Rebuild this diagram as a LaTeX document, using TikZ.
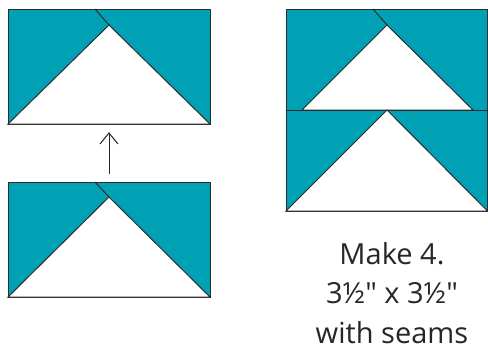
\documentclass[tikz,border=0pt]{standalone}
\usepackage{fontspec}
\setmainfont{Open Sans}[Ligatures=TeXOff]
\definecolor{quiltteal}{HTML}{00A0B5}
\definecolor{seamgray}{HTML}{2B2B2B}
\begin{document}
\begin{tikzpicture}[x=1pt,y=-1pt,
  patch/.style={fill=quiltteal, draw=seamgray, line width=1pt},
  goose/.style={fill=white, draw=seamgray, line width=1pt, line join=miter},
  seam/.style={draw=seamgray, line width=1pt},
  arrowline/.style={draw=black!85, line width=1pt},
  label/.style={font=\fontsize{29}{34}\selectfont, text=black!85, anchor=base, inner sep=0pt}]
\useasboundingbox (0,0) rectangle (488,349);
% left top block
\path[patch] (8,9) rectangle (210,124);
\path[goose] (8,124) -- (109,25) -- (210,124) -- cycle;
\path[seam] (95,9) -- (109,25);
% left bottom block
\path[patch] (8,182) rectangle (210,297);
\path[goose] (8,297) -- (109,197) -- (210,297) -- cycle;
\path[seam] (95,182) -- (109,197);
% arrow
\coordinate (from) at (109,174);
\coordinate (to) at (109,133);
\draw[arrowline] (from) -- (to);
\draw[arrowline, line join=miter] ([shift={(-9,11)}]to) -- (to) -- ([shift={(9,11)}]to);
% right top block
\path[patch] (286,9) rectangle (487.5,110);
\path[goose] (302,110) -- (387,25) -- (473,110) -- cycle;
\path[seam] (373,9) -- (387,25);
% right bottom block
\path[patch] (286,110) rectangle (487.5,211);
\path[goose] (286,211) -- (387,110) -- (487.5,211) -- cycle;
% text
\node[label] (l1) at (392,264) {Make 4.};
\node[label] (l2) at (392,303) {3½" x 3½"};
\node[label] (l3) at (392,343) {with seams};
\end{tikzpicture}
\end{document}
